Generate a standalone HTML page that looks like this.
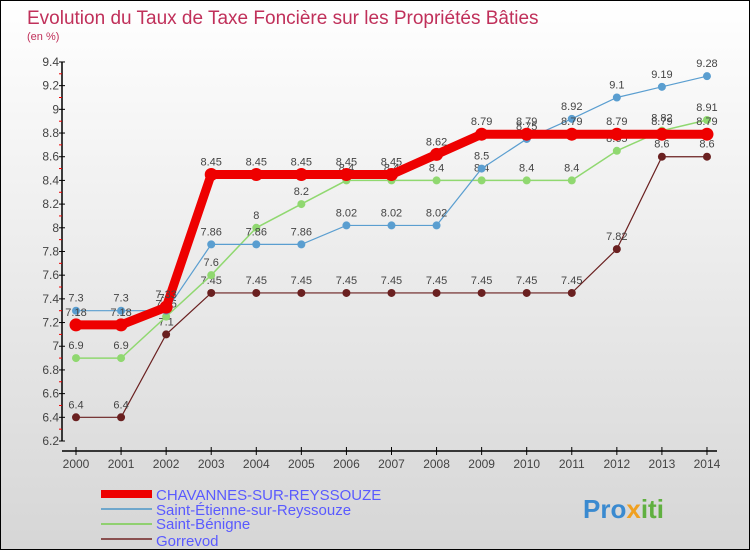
<!DOCTYPE html>
<html><head><meta charset="utf-8"><style>
body{margin:0}
#c{width:748px;height:548px;border:1px solid #000;background:linear-gradient(#ffffff,#d6d6d6);position:relative;font-family:"Liberation Sans",sans-serif;overflow:hidden}
</style></head><body>
<div id="c">
<svg id="s" width="748" height="548" xmlns="http://www.w3.org/2000/svg">
<text x="26" y="23" font-size="19" fill="#c0305a">Evolution du Taux de Taxe Foncière sur les Propriétés Bâties</text>
<text x="26" y="39" font-size="11" fill="#c0305a">(en %)</text>
<g id="axes"></g><g id="series"></g>
<g>
<rect x="100" y="489" width="51" height="8" fill="#e00"/>
<text x="155" y="499" font-size="15" fill="#5a5aff">CHAVANNES-SUR-REYSSOUZE</text>
<rect x="100" y="507" width="51" height="2" fill="#6fa7cc"/>
<text x="155" y="514" font-size="15" fill="#5a5aff">Saint-Étienne-sur-Reyssouze</text>
<rect x="100" y="522" width="51" height="2" fill="#90d070"/>
<text x="155" y="528" font-size="15" fill="#5a5aff">Saint-Bénigne</text>
<rect x="100" y="537" width="51" height="2" fill="#8a5050"/>
<text x="155" y="545" font-size="15" fill="#5a5aff">Gorrevod</text>
</g>
<text x="582" y="517" font-size="26" font-weight="bold" fill="#3a8ad0">Pro<tspan fill="#f0a020">x</tspan><tspan fill="#60b040">iti</tspan></text>
</svg></div>
<script>
const years=[2000,2001,2002,2003,2004,2005,2006,2007,2008,2009,2010,2011,2012,2013,2014];
const chavannes=[7.18,7.18,7.33,8.45,8.45,8.45,8.45,8.45,8.62,8.79,8.79,8.79,8.79,8.79,8.79];
const stEtienne=[7.3,7.3,7.3,7.86,7.86,7.86,8.02,8.02,8.02,8.5,8.75,8.92,9.1,9.19,9.28];
const stBenigne=[6.9,6.9,7.25,7.6,8,8.2,8.4,8.4,8.4,8.4,8.4,8.4,8.65,8.82,8.91];
const gorrevod=[6.4,6.4,7.1,7.45,7.45,7.45,7.45,7.45,7.45,7.45,7.45,7.45,7.82,8.6,8.6];
const yTicks=[6.2,6.4,6.6,6.8,7,7.2,7.4,7.6,7.8,8,8.2,8.4,8.6,8.8,9,9.2,9.4];
const NS="http://www.w3.org/2000/svg";
const X=i=>75+i*45.07, Y=v=>440-(v-6.2)/0.2*23.69;
function mk(t,a,p){const e=document.createElementNS(NS,t);for(const k in a)e.setAttribute(k,a[k]);p.appendChild(e);return e;}
const ax=document.getElementById('axes'), sg=document.getElementById('series');
let l=mk('line',{x1:61,y1:Y(9.4),x2:61,y2:Y(6.2),stroke:'#000','stroke-width':1.5},ax);


l=mk('line',{x1:61,y1:450,x2:716,y2:450,stroke:'#000','stroke-width':1.5},ax);


yTicks.forEach((v,i)=>{
  mk('line',{x1:58,y1:Y(v),x2:64,y2:Y(v),stroke:'#000'},ax);
  if(i<yTicks.length-1)mk('line',{x1:58,y1:Y(v+0.1),x2:61,y2:Y(v+0.1),stroke:'#e00'},ax);
  const t=mk('text',{x:58,y:Y(v)+4,'font-size':12,fill:'#444','text-anchor':'end'},ax);
  t.textContent=String(Math.round(v*10)/10);
  
  
});
years.forEach((y,i)=>{
  mk('line',{x1:X(i),y1:446,x2:X(i),y2:454,stroke:'#000'},ax);
  const t=mk('text',{x:X(i),y:467,'font-size':12,fill:'#444','text-anchor':'middle'},ax);
  t.textContent=y;
  
  
});
function series(d,color,w,r,name){
  const g=mk('g',{},sg);
  
  
  const p=mk('polyline',{points:d.map((v,i)=>X(i)+','+Y(v)).join(' '),fill:'none',stroke:color,'stroke-width':w},g);
  
  
  d.forEach((v,i)=>{
    const c=mk('circle',{cx:X(i),cy:Y(v),r:r,fill:color},g);
    
    
    const t=mk('text',{x:X(i),y:Y(v)-9,'font-size':11,fill:'#444','text-anchor':'middle'},g);
    t.textContent=v;
    
    
  });
}
series(gorrevod,'#6a2020',1.2,4,'gorrevod');
series(stBenigne,'#90d870',1.5,4,'saint-benigne');
series(stEtienne,'#5a9ed0',1.2,4,'saint-etienne');
series(chavannes,'#ee0000',9,6.5,'chavannes');
</script>
</body></html>
